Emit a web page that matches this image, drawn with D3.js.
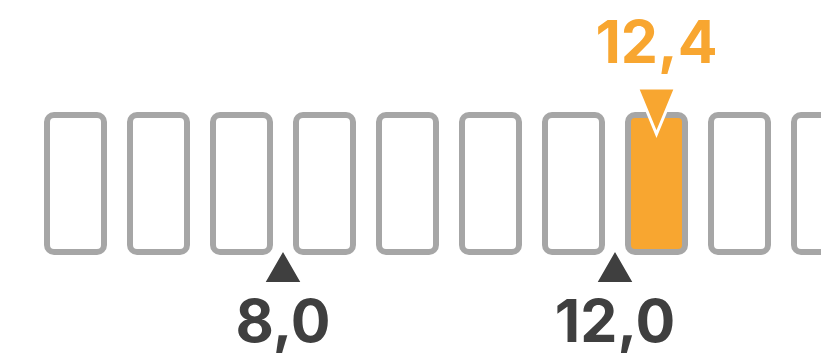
<!DOCTYPE html>
<html>
<head>
<meta charset="utf-8">
<script src="https://cdn.jsdelivr.net/npm/d3@7"></script>
<style>
  html, body { margin: 0; padding: 0; background: #fff; }
  #binChart svg { display: block; }
  .c-label { font-family: Inter, 'Open Sans', sans-serif; font-weight: 700; }
</style>
</head>
<body>
<div id="binChart"></div>
<script>
// one cell per whole unit
const bins = [5, 6, 7, 8, 9, 10, 11, 12, 13, 14];
const currentValue = 12.4;
const referenceValues = [8.0, 12.0];

class BinChart {
  constructor () {
    this.chartContainer = d3.select('#binChart');
    this.chart = null;
    this.chartWidth = 821;
    this.chartHeight = 362;
    this.cellGap = 20;
    this.strokeWidth = 6;
    this.cellTop = 112;
    this.cellBottom = 255;
    this.orange = '#f8a630';
    this.gray = '#a6a6a6';
    this.dark = '#3f3f3f';
    this.xScale = null;
    this.locale = d3.formatLocale({decimal: ',', thousands: '.', grouping: [3], currency: ['', '€']});
    this.format = this.locale.format('.1f');
  }

  render () {
    this.createSvg();
    this.initScales();
    this.drawCells();
    this.drawReferences();
    this.drawCurrent();
  }

  createSvg () {
    this.chart = this.chartContainer
      .append('svg')
      .attr('width', this.chartWidth)
      .attr('height', this.chartHeight);
  }

  initScales () {
    this.xScale = d3.scaleLinear().domain([5, 15]).range([34, 864]);
  }

  drawCells () {
    let currentBin = Math.floor(currentValue);
    let half = this.strokeWidth / 2;

    this.chart
      .append('g')
      .attr('class', 'c-cells')
      .selectAll('rect')
      .data(bins)
      .enter()
      .append('rect')
      .attr('x', (d) => {
        return this.xScale(d) + this.cellGap / 2 + half;
      })
      .attr('y', this.cellTop + half)
      .attr('width', (d) => {
        return this.xScale(d + 1) - this.xScale(d) - this.cellGap - this.strokeWidth;
      })
      .attr('height', this.cellBottom - this.cellTop - this.strokeWidth)
      .attr('rx', 7)
      .attr('ry', 7)
      .style('fill', (d) => {
        return d === currentBin ? this.orange : 'none';
      })
      .style('stroke', this.gray)
      .style('stroke-width', this.strokeWidth);
  }

  drawReferences () {
    let refs = this.chart
      .append('g')
      .attr('class', 'c-references')
      .selectAll('g')
      .data(referenceValues)
      .enter()
      .append('g')
      .attr('transform', (d) => {
        return 'translate(' + this.xScale(d) + ', 0)';
      });

    refs.append('path')
      .attr('d', 'M0,250L19,283L-19,283Z')
      .style('fill', this.dark)
      .style('stroke', '#fff')
      .style('stroke-width', 2);

    refs.append('text')
      .attr('class', 'c-label')
      .attr('y', 342)
      .attr('text-anchor', 'middle')
      .style('font-size', '59px')
      .style('fill', this.dark)
      .text((d) => {
        return this.format(d);
      });
  }

  drawCurrent () {
    // marker sits in the middle of the highlighted cell
    let markerX = this.xScale(Math.floor(currentValue) + 0.5);

    let marker = this.chart
      .append('g')
      .attr('class', 'c-current')
      .attr('transform', 'translate(' + markerX + ', 0)');

    marker.append('path')
      .attr('d', 'M-19,88L19,88L0,134Z')
      .style('fill', this.orange)
      .style('stroke', '#fff')
      .style('stroke-width', 3);

    marker.append('text')
      .attr('class', 'c-label')
      .attr('y', 63)
      .attr('text-anchor', 'middle')
      .style('font-size', '59px')
      .style('fill', this.orange)
      .text(this.format(currentValue));
  }
}

new BinChart().render();
</script>
</body>
</html>
